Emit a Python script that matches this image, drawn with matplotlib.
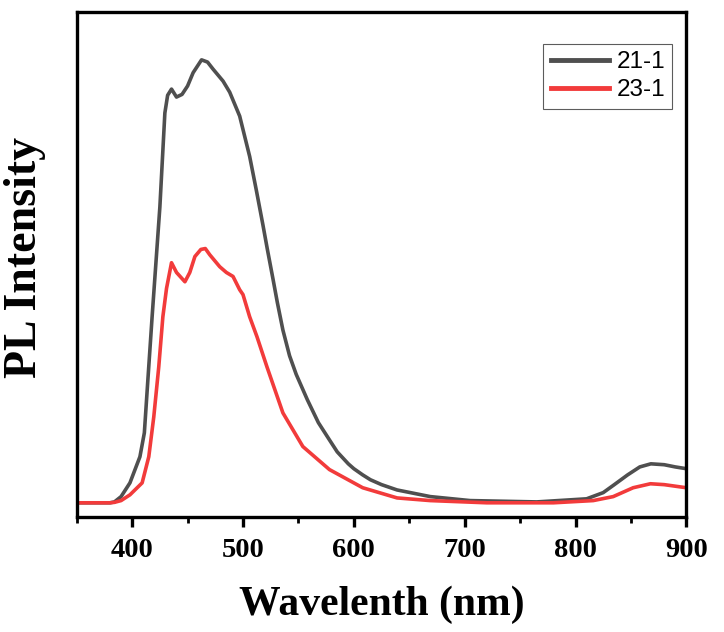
import matplotlib
matplotlib.use("Agg")
import matplotlib.pyplot as plt
from matplotlib.ticker import MultipleLocator

wl_21 = [350, 380, 384, 390, 398, 407, 411, 414, 418, 425, 429.5, 432, 435.5, 440,
         445, 450, 455, 462.6, 468, 473, 482, 488, 497, 506, 512, 518, 522, 527,
         531, 536, 542, 548, 558, 568, 578, 585, 595, 600, 608, 615, 625, 639, 669,
         705, 765, 810, 825, 835, 847, 858, 868, 880, 890, 900]
pl_21 = [0, 0, 2, 14, 45, 104, 158, 271, 420, 668, 880, 920, 934, 916,
         922, 941, 971, 1000, 995, 979, 952, 927, 873, 782, 706, 627, 572, 506,
         452, 390, 332, 290, 233, 181, 142, 115, 88, 77, 63, 52, 41, 29, 14,
         5, 2, 9, 23, 41, 63, 81, 88, 86, 81, 77]

wl_23 = [350, 380, 384, 390, 398, 409, 415, 419.5, 424, 427.7, 431, 435.5, 440,
         447.6, 452, 456.6, 462, 466, 470, 479, 485, 491, 497, 500, 506, 512.6,
         521.6, 536, 554, 578, 608, 639, 669, 720, 780, 816, 834, 852, 867.6,
         880, 900]
pl_23 = [0, 0, 1, 5, 18, 45, 104, 194, 307, 420, 484, 542, 520,
         499, 520, 556, 572, 574, 560, 533, 520, 511, 481, 470, 420, 375,
         307, 203, 127, 75, 34, 11, 5, 0, 0, 5, 14, 34, 43,
         41, 34]

etiquetas = ["21-1", "23-1"]
colores = ["#4F4F4F", "#F23B3B"]

fig = plt.figure(figsize=(7.24, 6.32), dpi=100)
ax = fig.add_axes([0.106, 0.182, 0.842, 0.799])

ax.plot(wl_21, pl_21, color=colores[0], lw=2.6, label=etiquetas[0])
ax.plot(wl_23, pl_23, color=colores[1], lw=2.6, label=etiquetas[1])

ax.set_xlim(350, 900)
ax.set_ylim(-32, 1108)
ax.xaxis.set_major_locator(MultipleLocator(100))
ax.xaxis.set_minor_locator(MultipleLocator(50))
ax.set_yticks([])

for s in ax.spines.values():
    s.set_linewidth(2.4)
ax.tick_params(axis="x", which="major", direction="out", length=7, width=2.4,
               labelsize=20.5, pad=8)
ax.tick_params(axis="x", which="minor", direction="out", length=4, width=2.0)
for lab in ax.get_xticklabels():
    lab.set_fontfamily("Liberation Serif")
    lab.set_fontweight("bold")

ax.set_xlabel("Wavelenth (nm)", fontsize=30, fontfamily="Liberation Serif",
              fontweight="bold", labelpad=16)
ax.set_ylabel("PL Intensity", fontsize=33, fontfamily="Liberation Serif",
              fontweight="bold")
ax.yaxis.set_label_coords(-0.05, 0.513)

leg = ax.legend(loc="upper right", bbox_to_anchor=(0.977, 0.937),
                prop={"family": "Liberation Sans", "size": 17.5},
                frameon=True, fancybox=False, edgecolor="#333333",
                handlelength=2.4, borderpad=0.3, labelspacing=0.25,
                handletextpad=0.3, borderaxespad=0)
leg.get_frame().set_linewidth(0.8)
for h in leg.get_lines():
    h.set_linewidth(3.5)

plt.savefig("out.png", dpi=100)
